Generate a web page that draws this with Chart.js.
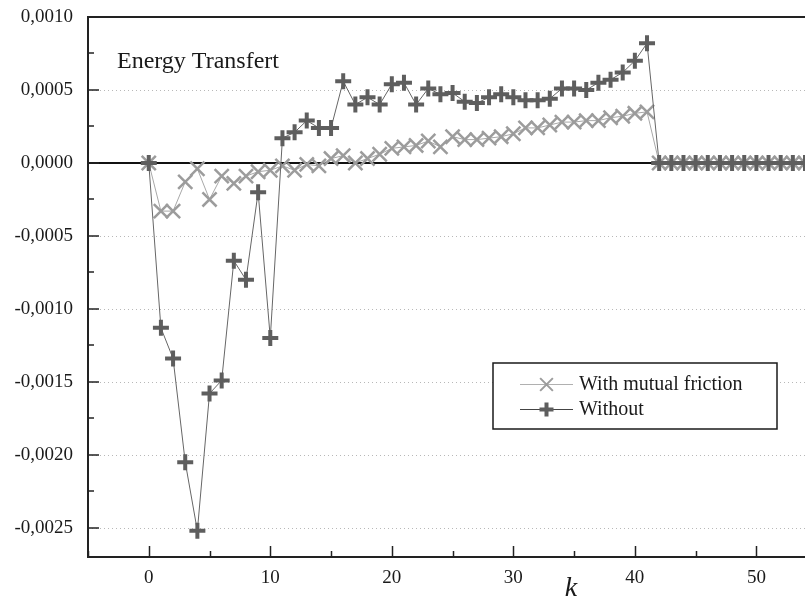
<!DOCTYPE html>
<html>
<head>
<meta charset="utf-8">
<title>Energy Transfert</title>
<script src="https://cdn.jsdelivr.net/npm/chart.js@4.4.1/dist/chart.umd.min.js"></script>
<style>
  html, body { margin: 0; padding: 0; background: #ffffff; }
  #wrap { width: 805px; height: 604px; }
</style>
</head>
<body>
<div id="wrap"><canvas id="energyChart" width="805" height="604"></canvas></div>
<script>
// wavenumber index k
const kValues = [
  0, 1, 2, 3, 4, 5, 6, 7, 8, 9, 10, 11, 12, 13, 14, 15, 16, 17, 18, 19,
  20, 21, 22, 23, 24, 25, 26, 27, 28, 29, 30, 31, 32, 33, 34, 35, 36, 37, 38, 39,
  40, 41, 42, 43, 44, 45, 46, 47, 48, 49, 50, 51, 52, 53, 54
];

// energy transfer with mutual friction
const withFriction = [
  0, -0.00033, -0.00033, -0.00013, -0.00004, -0.00025, -0.00009, -0.00014, -0.00009, -0.00006,
  -0.00005, -0.00002, -0.00005, -0.00001, -0.00002, 0.00003, 0.00005, 0.00000, 0.00003, 0.00006,
  0.00010, 0.00011, 0.00012, 0.00015, 0.00011, 0.00018, 0.00016, 0.00016, 0.00017, 0.00018,
  0.00020, 0.00024, 0.00024, 0.00026, 0.00028, 0.00028, 0.00029, 0.00029, 0.00031, 0.00032,
  0.00034, 0.00035, 0, 0, 0, 0, 0, 0, 0, 0, 0, 0, 0, 0, 0
];

// energy transfer without mutual friction
const withoutFriction = [
  0, -0.00113, -0.00134, -0.00205, -0.00252, -0.00158, -0.00149, -0.00067, -0.00080, -0.00020,
  -0.00120, 0.00017, 0.00021, 0.00029, 0.00024, 0.00024, 0.00056, 0.00040, 0.00045, 0.00040,
  0.00054, 0.00055, 0.00040, 0.00051, 0.00047, 0.00048, 0.00042, 0.00041, 0.00045, 0.00047,
  0.00045, 0.00043, 0.00043, 0.00044, 0.00051, 0.00051, 0.00050, 0.00055, 0.00057, 0.00062,
  0.00070, 0.00082, 0, 0, 0, 0, 0, 0, 0, 0, 0, 0, 0, 0, 0
];

const seriesNames = ['With mutual friction', 'Without'];
const chartTitle = 'Energy Transfert';
const xAxisTitle = 'k';

// axis ranges and tick spacing
const xRange = [-5, 54];
const yRange = [-0.0027, 0.0010];
const xMinorStep = 5, xLabelStep = 10;
const yMinorStep = 0.00025, yLabelStep = 0.0005;

const serif = "'Liberation Serif', 'Times New Roman', serif";
const colWith = '#9c9c9c';
const colWithout = '#5e5e5e';

function isMultiple(v, step) {
  const r = v / step;
  return Math.abs(r - Math.round(r)) < 1e-6;
}

function toPoints(ys) {
  return kValues.map((k, i) => ({ x: k, y: ys[i] }));
}

function drawMarker(ctx, style, x, y, r) {
  ctx.beginPath();
  if (style === 'cross') {
    ctx.moveTo(x - r, y); ctx.lineTo(x + r, y);
    ctx.moveTo(x, y - r); ctx.lineTo(x, y + r);
  } else {
    const d = r * Math.SQRT1_2;
    ctx.moveTo(x - d, y - d); ctx.lineTo(x + d, y + d);
    ctx.moveTo(x - d, y + d); ctx.lineTo(x + d, y - d);
  }
  ctx.stroke();
}

// keep the plot frame at fixed offsets: no extra room for edge labels
function noEdgePadding(s) {
  s.paddingTop = 0;
  s.paddingBottom = 0;
  s.paddingLeft = 0;
  s.paddingRight = 0;
}

// grid, frame, inward ticks, captions and the boxed legend
const decorations = {
  id: 'decorations',
  beforeDatasetsDraw(chart) {
    const { ctx, chartArea: a, scales: { x, y } } = chart;
    ctx.save();
    ctx.strokeStyle = '#b8b8b8';
    ctx.lineWidth = 1;
    ctx.setLineDash([1, 3]);
    y.ticks.forEach(t => {
      if (!isMultiple(t.value, yLabelStep) || Math.abs(t.value) < 1e-9) return;
      const py = Math.round(y.getPixelForValue(t.value)) + 0.5;
      if (py <= a.top + 2) return;
      ctx.beginPath();
      ctx.moveTo(a.left, py);
      ctx.lineTo(a.right, py);
      ctx.stroke();
    });
    ctx.setLineDash([]);
    // zero line
    const p0 = Math.round(y.getPixelForValue(0));
    ctx.strokeStyle = '#111111';
    ctx.lineWidth = 2;
    ctx.beginPath();
    ctx.moveTo(a.left, p0);
    ctx.lineTo(a.right, p0);
    ctx.stroke();
    ctx.restore();
  },
  afterDatasetsDraw(chart) {
    const { ctx, chartArea: a, scales: { x, y } } = chart;
    ctx.save();
    ctx.strokeStyle = '#222222';
    ctx.lineWidth = 2;
    ctx.beginPath();
    ctx.moveTo(a.right, a.top);
    ctx.lineTo(a.left, a.top);
    ctx.lineTo(a.left, a.bottom);
    ctx.lineTo(a.right, a.bottom);
    ctx.stroke();

    ctx.lineWidth = 1.5;
    y.ticks.forEach(t => {
      if (!isMultiple(t.value, yMinorStep)) return;
      const len = isMultiple(t.value, yLabelStep) ? 11 : 6;
      const py = Math.round(y.getPixelForValue(t.value));
      ctx.beginPath();
      ctx.moveTo(a.left, py);
      ctx.lineTo(a.left + len, py);
      ctx.stroke();
    });
    x.ticks.forEach(t => {
      if (!isMultiple(t.value, xMinorStep)) return;
      const len = isMultiple(t.value, xLabelStep) ? 11 : 6;
      const px = Math.round(x.getPixelForValue(t.value)) + 0.5;
      ctx.beginPath();
      ctx.moveTo(px, a.bottom);
      ctx.lineTo(px, a.bottom - len);
      ctx.stroke();
    });

    // captions
    ctx.fillStyle = '#1a1a1a';
    ctx.textBaseline = 'alphabetic';
    ctx.textAlign = 'left';
    ctx.font = '24px ' + serif;
    ctx.fillText(chartTitle, a.left + 29, 68);
    ctx.textAlign = 'center';
    ctx.textBaseline = 'middle';
    ctx.font = 'italic 28px ' + serif;
    ctx.fillText(xAxisTitle, 571, 589);

    // legend box
    const bx = 493, by = 363, bw = 284, bh = 66;
    ctx.fillStyle = '#ffffff';
    ctx.fillRect(bx, by, bw, bh);
    ctx.strokeStyle = '#1a1a1a';
    ctx.lineWidth = 1.5;
    ctx.strokeRect(bx, by, bw, bh);
    const rows = [
      { name: seriesNames[0], line: '#b0b0b0', mark: colWith, style: 'crossRot', r: 9, w: 2, y: 384 },
      { name: seriesNames[1], line: '#444444', mark: colWithout, style: 'cross', r: 7, w: 4, y: 409 }
    ];
    rows.forEach(row => {
      ctx.strokeStyle = row.line;
      ctx.lineWidth = 1;
      ctx.beginPath();
      ctx.moveTo(520, row.y + 0.5);
      ctx.lineTo(573, row.y + 0.5);
      ctx.stroke();
      ctx.strokeStyle = row.mark;
      ctx.lineWidth = row.w;
      drawMarker(ctx, row.style, 546.5, row.y + 0.5, row.r);
      ctx.fillStyle = '#1a1a1a';
      ctx.textAlign = 'left';
      ctx.textBaseline = 'middle';
      ctx.font = '20px ' + serif;
      ctx.fillText(row.name, 579, row.y + 1);
    });
    ctx.restore();
  }
};

const ctx = document.getElementById('energyChart').getContext('2d');
new Chart(ctx, {
  type: 'line',
  data: {
    datasets: [
      {
        label: seriesNames[0],
        data: toPoints(withFriction),
        borderColor: '#a8a8a8',
        borderWidth: 1,
        pointStyle: 'crossRot',
        pointRadius: 10,
        pointBorderWidth: 2.5,
        pointBorderColor: colWith,
        pointBackgroundColor: colWith,
        tension: 0,
        fill: false,
        order: 1
      },
      {
        label: seriesNames[1],
        data: toPoints(withoutFriction),
        borderColor: '#666666',
        borderWidth: 1,
        pointStyle: 'cross',
        pointRadius: 8,
        pointBorderWidth: 4,
        pointBorderColor: colWithout,
        pointBackgroundColor: colWithout,
        tension: 0,
        fill: false,
        order: 0
      }
    ]
  },
  options: {
    responsive: false,
    animation: false,
    layout: { autoPadding: false, padding: { top: 17, right: 0, bottom: 0, left: 0 } },
    plugins: {
      legend: { display: false },
      tooltip: { enabled: false }
    },
    scales: {
      x: {
        type: 'linear',
        min: xRange[0],
        max: xRange[1],
        grid: { display: false, drawTicks: false },
        border: { display: false },
        afterFit: s => { s.height = 47; noEdgePadding(s); },
        ticks: {
          stepSize: xMinorStep,
          autoSkip: false,
          maxRotation: 0,
          padding: 10,
          color: '#1a1a1a',
          font: { family: serif, size: 19 },
          callback: v => (isMultiple(v, xLabelStep) ? String(v) : '')
        }
      },
      y: {
        type: 'linear',
        min: yRange[0],
        max: yRange[1],
        grid: { display: false, drawTicks: false },
        border: { display: false },
        afterFit: s => { s.width = 88; noEdgePadding(s); },
        ticks: {
          stepSize: yMinorStep,
          autoSkip: false,
          padding: 15,
          color: '#1a1a1a',
          font: { family: serif, size: 19 },
          callback: v => (isMultiple(v, yLabelStep) ? v.toFixed(4).replace('.', ',') : '')
        }
      }
    }
  },
  plugins: [decorations]
});
</script>
</body>
</html>
